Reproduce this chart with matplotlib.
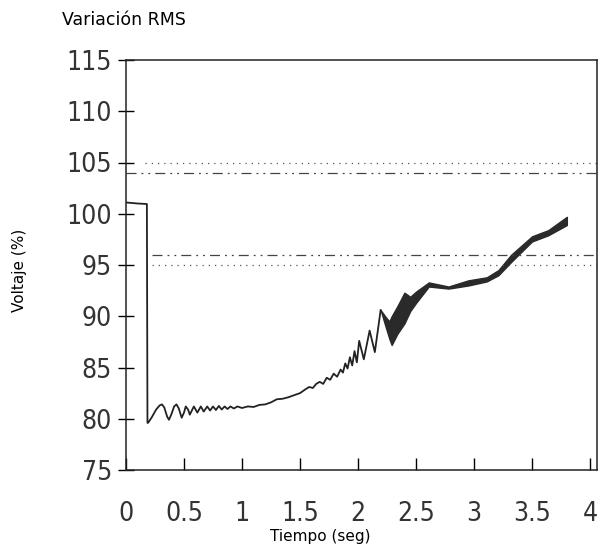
import matplotlib.pyplot as plt
from matplotlib import font_manager

# main trace
t = [0.0, 0.10, 0.18, 0.185, 0.19, 0.22, 0.26, 0.29, 0.31, 0.33, 0.355,
     0.37, 0.39, 0.415, 0.435, 0.455, 0.48, 0.50, 0.515, 0.535, 0.55,
     0.585, 0.615, 0.645, 0.67, 0.70, 0.725, 0.75, 0.775, 0.80, 0.825,
     0.85, 0.875, 0.90, 0.93, 0.96, 1.0, 1.05, 1.10, 1.15, 1.2, 1.25,
     1.30, 1.35, 1.40, 1.45, 1.50, 1.55, 1.58, 1.61, 1.64, 1.67, 1.70,
     1.73, 1.76, 1.79, 1.82, 1.85, 1.87, 1.89, 1.91, 1.93, 1.95, 1.97,
     1.99, 2.01, 2.05, 2.10, 2.145, 2.195]
v = [101.1, 101.0, 100.95, 79.6, 79.6, 80.1, 80.9, 81.3, 81.4, 81.1, 80.2,
     79.9, 80.4, 81.2, 81.4, 81.0, 80.1, 80.6, 81.2, 80.9, 80.4,
     81.2, 80.6, 81.2, 80.7, 81.2, 80.8, 81.2, 80.85, 81.25, 80.9,
     81.2, 80.95, 81.2, 81.0, 81.2, 81.05, 81.2, 81.15, 81.35, 81.4, 81.6,
     81.9, 81.95, 82.1, 82.3, 82.5, 82.9, 83.1, 83.0, 83.4, 83.6, 83.4,
     84.0, 83.8, 84.4, 84.1, 84.8, 84.5, 85.4, 84.9, 86.0, 85.2, 86.6,
     85.5, 87.6, 85.8, 88.6, 86.5, 90.6]

# thick band at the end
tb = [2.195, 2.24, 2.27, 2.29, 2.34, 2.40, 2.45, 2.50, 2.61, 2.78, 2.95,
      3.11, 3.21, 3.32, 3.50, 3.64, 3.80]
upper = [90.6, 89.9, 89.5, 90.0, 91.0, 92.3, 91.9, 92.4, 93.3, 92.9, 93.5,
         93.8, 94.5, 96.0, 97.8, 98.4, 99.7]
lower = [90.6, 88.9, 87.8, 87.2, 88.3, 89.3, 90.5, 91.3, 92.9, 92.7, 93.0,
         93.4, 94.0, 95.3, 97.3, 97.9, 98.9]

xticks = [0, 0.5, 1, 1.5, 2, 2.5, 3, 3.5, 4]
xticklabels = ['0', '0.5', '1', '1.5', '2', '2.5', '3', '3.5', '4']
yticks = [75, 80, 85, 90, 95, 100, 105, 110, 115]

tick_font = font_manager.FontProperties(family='DejaVu Sans', stretch='condensed',
                                        weight='light', size=19)

fig = plt.figure(figsize=(5.98, 5.47), dpi=100)
ax = fig.add_axes([126 / 598, 1 - 470 / 547, 471 / 598, 410 / 547])

ax.plot(t, v, color='#222222', lw=1.3)
ax.fill_between(tb, lower, upper, color='#2a2a2a', lw=1.0, edgecolor='#2a2a2a')

# limit lines
ax.hlines([105, 95], [0.16, 0.22], 4.06, colors='#555555', lw=0.9,
          linestyles=(0, (1, 4)))
ax.hlines([104, 96], [0.0, 0.22], 4.06, colors='#444444', lw=0.9,
          linestyles=(0, (8, 4, 1.5, 4, 1.5, 4)))

ax.set_xlim(0, 4.06)
ax.set_ylim(75, 115)
ax.set_xticks(xticks)
ax.set_xticklabels(xticklabels, fontproperties=tick_font, color='#333333')
ax.set_yticks(yticks)
ax.set_yticklabels([str(y) for y in yticks], fontproperties=tick_font,
                   color='#333333')
ax.tick_params(axis='x', direction='in', length=9, width=1, pad=22)
ax.tick_params(axis='y', direction='inout', length=12, width=1, pad=4)
for s in ax.spines.values():
    s.set_linewidth(1.1)
    s.set_color('#222222')

fig.text(62 / 598, 1 - 20 / 547, 'Variación RMS', fontsize=12.5, va='center')
fig.text(20 / 598, 1 - 270 / 547, 'Voltaje (%)', fontsize=11, rotation=90,
         va='center', ha='center')
fig.text(320 / 598, 1 - 537 / 547, 'Tiempo (seg)', fontsize=11,
         va='center', ha='center')

fig.savefig('out.png', dpi=100)
